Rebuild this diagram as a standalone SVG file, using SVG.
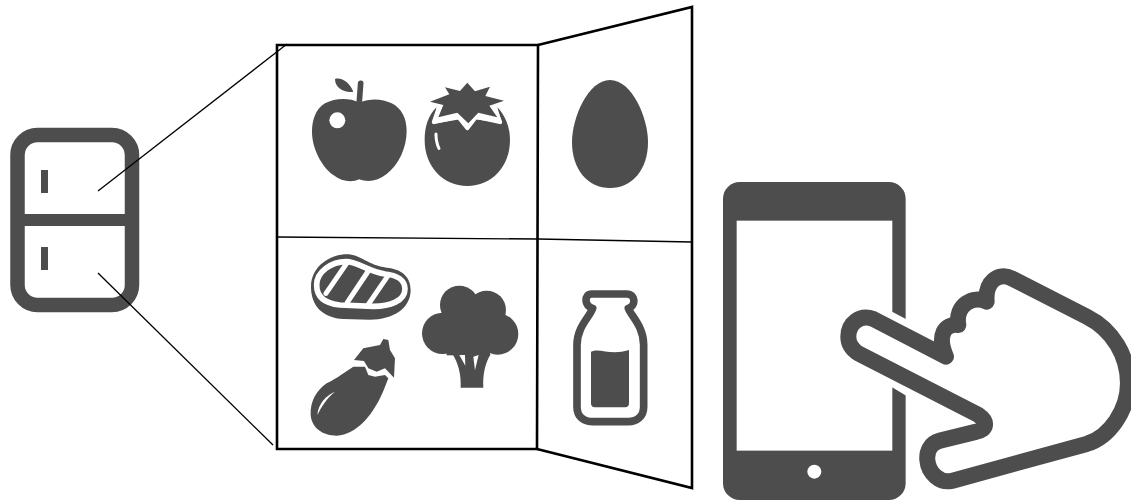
<svg xmlns="http://www.w3.org/2000/svg" width="1131" height="502" viewBox="0 0 1131 502">
<style>
.d{fill:#4d4d4d}
.w{fill:#fff}
.ws{fill:none;stroke:#fff;stroke-linecap:round;stroke-linejoin:round}
.ds{stroke:#4d4d4d;stroke-linecap:round;stroke-linejoin:round}
.frame{fill:none;stroke:#000;stroke-width:2.6}
.thin{fill:none;stroke:#000;stroke-width:1.3}
</style>
<rect width="1131" height="502" fill="#fff"/>
<g id="fridge">
<rect x="17.500" y="135" width="114.500" height="170" rx="20" fill="#fff" stroke="#4d4d4d" stroke-width="14.500"/>
<rect class="d" x="18" y="214" width="114" height="12"/>
<rect class="d" x="41" y="170" width="7" height="23"/>
<rect class="d" x="41" y="247" width="7" height="23"/>
</g>
<g id="connectors">
<path class="thin" d="M98,191 L287,44"/>
<path class="thin" d="M98,273 L273,445"/>
</g>
<g id="cabinet">
<path class="frame" d="M277,45 L538,45 L537,449 L277,449 Z"/>
<path class="frame" d="M538,45 L692,7 L692,488 L537,449"/>
<path class="thin" d="M277,237 L538,239 L692,242"/>
</g>
<g id="apple" transform="translate(290 60) scale(.3333)">
<path class="d" d="M208,128 C175,112 135,115 105,130 C78,145 66,180 66,215 C66,265 95,320 130,345 C155,365 185,368 208,358 C235,368 265,362 290,342 C325,315 350,265 350,212 C350,175 335,145 305,130 C275,115 240,115 208,128 Z"/>
<circle class="w" cx="142" cy="181" r="24"/>
<path d="M208,125 L212,70" fill="none" stroke="#4d4d4d" stroke-width="17" stroke-linecap="round"/>
<path class="d" d="M135,57 C155,50 180,70 190,95 C165,100 135,85 135,57 Z"/>
</g>
<g id="tomato" transform="translate(290 60) scale(.3333)">
<path class="d" d="M440,142 C415,165 404,200 404,240 C404,320 460,378 532,378 C605,378 660,320 660,240 C660,200 645,165 622,142 L636,190 L556,178 L532,208 L510,178 L428,192 Z"/>
<path class="ws" stroke-width="13" d="M446,146 L432,186 L505,170 L532,204 L558,170 L630,186 L614,146"/>
<path class="d" d="M532,68 L555,94 L600,80 L586,108 L642,122 L598,137 L622,172 L565,158 L535,190 L502,158 L445,172 L460,135 L420,125 L478,103 L465,82 L510,93 Z"/>
<path class="ws" stroke-width="9" d="M438,222 C438,240 442,255 447,265"/>
</g>
<g id="egg">
<path class="d" d="M610,80 C632,80 648,118 648,142 C648,170 632,188 610,188 C588,188 572,170 572,142 C572,118 588,80 610,80 Z"/>
</g>
<g id="steak" transform="translate(290 245) scale(.3333)">
<path class="d" d="M63,125 C63,65 120,28 170,28 C212,28 235,62 290,68 C335,72 362,95 362,135 C362,190 310,224 240,224 L160,222 C100,218 63,185 63,125 Z"/>
<path class="ws" stroke-width="17" d="M80,120 C80,80 125,50 168,50 C205,50 235,80 285,87 C320,90 345,105 345,132 C345,168 300,184 250,184 L150,180 C110,176 80,160 80,120 Z"/>
<path class="ws" stroke-width="15" d="M108,145 L170,55 M172,172 L235,78 M235,178 L292,95"/>
</g>
<g id="broccoli" transform="translate(290 245) scale(.3333)">
<circle class="d" cx="508" cy="180" r="58"/>
<circle class="d" cx="590" cy="195" r="58"/>
<circle class="d" cx="458" cy="265" r="62"/>
<circle class="d" cx="623" cy="267" r="62"/>
<rect class="d" x="470" y="200" width="130" height="131"/>
<path class="d" d="M488,328 C505,355 514,390 512,428 L580,428 C578,390 585,355 602,328 Z"/>
<path class="w" d="M508,330 L525,330 L526,362 Z M550,335 L566,330 L555,376 Z"/>
</g>
<g id="eggplant" transform="translate(290 245) scale(.3333)">
<path class="d" d="M190,365 L225,365 L235,390 L255,395 L285,390 L295,400 C285,425 280,440 270,460 C245,510 200,570 140,572 C100,572 65,550 62,510 C60,470 80,435 110,415 C145,398 165,380 190,365 Z"/>
<path class="d" d="M192,345 L220,310 L270,300 L280,282 L295,285 L300,315 L315,340 L312,398 L285,370 L260,380 L235,370 L222,348 Z"/>
<path class="w" d="M82,510 C85,475 110,450 135,440 C110,460 95,485 82,510 Z"/>
</g>
<g id="bottle" transform="translate(560 270) scale(.3333)">
<path fill="#fff" stroke="#4d4d4d" stroke-width="23" stroke-linejoin="round" d="M95,72 L200,72 C228,72 228,108 205,115 C215,140 251,170 251,225 L251,410 C251,440 230,455 205,455 L100,455 C70,455 51,440 51,410 L51,225 C51,170 90,140 98,115 C72,108 72,72 95,72 Z"/>
<path class="d" d="M93,245 C120,232 150,258 207,240 L207,400 Q207,412 195,412 L105,412 Q93,412 93,400 Z"/>
</g>
<g id="phone" transform="translate(710 170) scale(.3333)">
<rect class="d" x="39" y="36" width="548" height="954" rx="50"/>
<rect class="w" x="80" y="152" width="467" height="690"/>
<circle class="w" cx="313" cy="905" r="21"/>
<path class="w" d="M530,416 L600,454 L600,684 L530,642 Z"/>
</g>
<g id="hand" transform="translate(710 170) scale(.3333)">
<path class="ds" fill="#fff" stroke-width="48" d="M708,560 L490,447 C450,432 415,460 415,500 C415,525 430,540 445,550 L805,735 C835,755 830,780 800,785 L690,812 C660,820 650,845 652,870 C655,910 690,940 725,933 L1130,822 C1200,800 1254,720 1254,640 C1254,560 1210,480 1130,440 L905,325 C865,305 825,335 830,395 C790,375 735,405 745,465 C705,460 680,495 708,560 Z"/>
</g>
</svg>
